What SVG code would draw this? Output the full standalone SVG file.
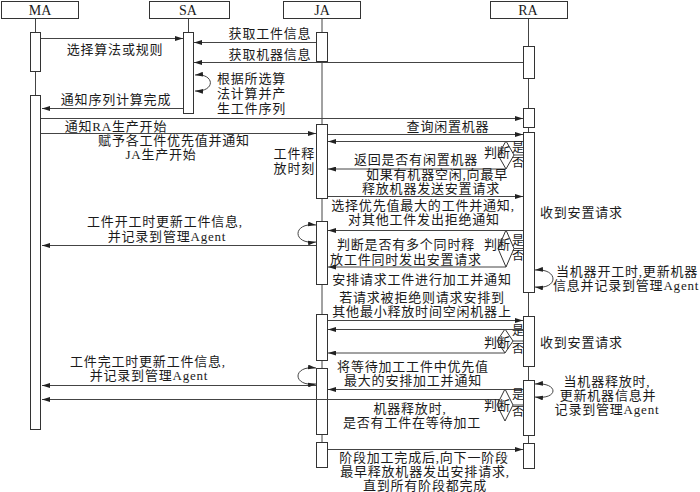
<svg xmlns="http://www.w3.org/2000/svg" width="700" height="492" viewBox="0 0 700 492">
<defs>
<style>
.hd{fill:#fff;stroke:#333;stroke-width:1}
.ll{stroke:#444;stroke-width:1}
.act{fill:#fff;stroke:#333;stroke-width:1}
.msg{stroke:#444;stroke-width:1;fill:none}
.dia{fill:none;stroke:#333;stroke-width:1}
text{font-family:"Liberation Serif","Noto Sans CJK SC",serif;fill:#1a1a1a}
.ht{font-size:14px;text-anchor:middle}
.t,.tl,.tr{font-size:13px;letter-spacing:0.8px}
.t{text-anchor:middle}
.tl{text-anchor:start}
.tr{text-anchor:end}
.yn{font-size:12px;text-anchor:middle}
.pd{font-size:13px;text-anchor:end}
</style>
<marker id="ah" viewBox="0 0 10 6" refX="10" refY="3" markerWidth="8" markerHeight="5" orient="auto" markerUnits="userSpaceOnUse"><path d="M0,0 L10,3 L0,6 z" fill="#222"/></marker>
<marker id="ahs" viewBox="0 0 10 6" refX="10" refY="3" markerWidth="8" markerHeight="5" orient="auto-start-reverse" markerUnits="userSpaceOnUse"><path d="M0,0 L10,3 L0,6 z" fill="#222"/></marker>
</defs>
<rect width="700" height="492" fill="#fff"/>

<g id="MA">
<line class="ll" x1="35.5" y1="18" x2="35.5" y2="429"/>
<rect class="hd" x="1.5" y="1.5" width="77" height="17"/>
<text class="ht" x="40" y="15">MA</text>
<rect class="act" x="30.5" y="32.5" width="10" height="39"/>
<rect class="act" x="30.5" y="95.5" width="10" height="334"/>
</g>

<g id="SA">
<line class="ll" x1="188.5" y1="18" x2="188.5" y2="113"/>
<rect class="hd" x="149.5" y="1.5" width="80" height="17"/>
<text class="ht" x="188" y="15">SA</text>
<rect class="act" x="183.5" y="32.5" width="10" height="81"/>
</g>

<g id="JA">
<line class="ll" x1="322" y1="18" x2="322" y2="467"/>
<rect class="hd" x="283.5" y="1.5" width="77" height="17"/>
<text class="ht" x="322" y="15">JA</text>
<rect class="act" x="316.5" y="32.5" width="11" height="29"/>
<rect class="act" x="316.5" y="124.5" width="11" height="74"/>
<rect class="act" x="316.5" y="221.5" width="11" height="63"/>
<rect class="act" x="316.5" y="314.5" width="11" height="46"/>
<rect class="act" x="316.5" y="368.5" width="11" height="66"/>
<rect class="act" x="316.5" y="442.5" width="11" height="25"/>
</g>

<g id="RA">
<line class="ll" x1="528.5" y1="18" x2="528.5" y2="468"/>
<rect class="hd" x="490.5" y="1.5" width="77" height="17"/>
<text class="ht" x="528" y="15">RA</text>
<rect class="act" x="523.5" y="46.5" width="11" height="32"/>
<rect class="act" x="523.5" y="108.5" width="11" height="19"/>
<rect class="act" x="523.5" y="132.5" width="11" height="160"/>
<rect class="act" x="523.5" y="316.5" width="11" height="50"/>
<rect class="act" x="523.5" y="380.5" width="11" height="55"/>
<rect class="act" x="523.5" y="443.5" width="11" height="25"/>
</g>

<g id="decisions">
<polygon class="dia" points="506,141 514,155 506,169 498,155"/>
<polygon class="dia" points="506,230 514,248.5 506,267 498,248.5"/>
<polygon class="dia" points="505,329 513,341 505,353 497,341"/>
<polygon class="dia" points="505,389 513,405 505,421 497,405"/>
</g>

<g id="connectors">
<line class="msg" x1="41" y1="38.5" x2="183" y2="38.5" marker-end="url(#ah)"/>
<line class="msg" x1="316" y1="42.5" x2="194" y2="42.5" marker-end="url(#ah)"/>
<line class="msg" x1="523" y1="62.5" x2="194" y2="62.5" marker-end="url(#ah)"/>
<path class="msg" d="M195,75 C215,73 216,92 195,91" marker-start="url(#ahs)" marker-end="url(#ah)"/>
<line class="msg" x1="183" y1="108.5" x2="42" y2="108.5" marker-end="url(#ah)"/>
<line class="msg" x1="41" y1="118.5" x2="523" y2="118.5" marker-end="url(#ah)"/>
<line class="msg" x1="41" y1="133.5" x2="316" y2="133.5" marker-end="url(#ah)"/>
<line class="msg" x1="328" y1="134.5" x2="523" y2="134.5" marker-end="url(#ah)"/>
<line class="msg" x1="523" y1="141.5" x2="328" y2="141.5" marker-end="url(#ah)"/>
<line class="msg" x1="514" y1="155" x2="523" y2="155"/>
<line class="msg" x1="506" y1="169" x2="328" y2="169" marker-end="url(#ah)"/>
<line class="msg" x1="328" y1="196.5" x2="523" y2="196.5" marker-end="url(#ah)"/>
<line class="msg" x1="523" y1="230.5" x2="328" y2="230.5" marker-end="url(#ah)"/>
<line class="msg" x1="514" y1="248.5" x2="523" y2="248.5"/>
<line class="msg" x1="506" y1="267" x2="328" y2="267" marker-end="url(#ah)"/>
<line class="msg" x1="316" y1="245.5" x2="42" y2="245.5" marker-end="url(#ah)"/>
<path class="msg" d="M316,225 C292,222 292,245 316,242" marker-start="url(#ahs)" marker-end="url(#ah)"/>
<path class="msg" d="M535,270 C559,268 559,290 535,287" marker-start="url(#ahs)" marker-end="url(#ah)"/>
<line class="msg" x1="328" y1="320.5" x2="523" y2="320.5" marker-end="url(#ah)"/>
<line class="msg" x1="523" y1="329.5" x2="328" y2="329.5" marker-end="url(#ah)"/>
<line class="msg" x1="513" y1="341" x2="523" y2="341"/>
<line class="msg" x1="505" y1="353" x2="328" y2="353" marker-end="url(#ah)"/>
<line class="msg" x1="523" y1="389.5" x2="328" y2="389.5" marker-end="url(#ah)"/>
<line class="msg" x1="513" y1="405" x2="523" y2="405"/>
<line class="msg" x1="316" y1="385.5" x2="42" y2="385.5" marker-end="url(#ah)"/>
<line class="msg" x1="500" y1="399.5" x2="42" y2="399.5" marker-end="url(#ah)"/>
<path class="msg" d="M316,368 C292,365 292,387 316,384" marker-start="url(#ahs)" marker-end="url(#ah)"/>
<path class="msg" d="M535,384 C559,382 559,400 535,397" marker-start="url(#ahs)" marker-end="url(#ah)"/>
<line class="msg" x1="328" y1="449.5" x2="523" y2="449.5" marker-end="url(#ah)"/>
</g>

<g id="labels">
<text class="t" x="115" y="54">选择算法或规则</text>
<text class="t" x="270" y="38">获取工件信息</text>
<text class="t" x="270" y="59">获取机器信息</text>
<text class="tl" x="217" y="83">根据所选算</text>
<text class="tl" x="217" y="98">法计算并产</text>
<text class="tl" x="217" y="113">生工件序列</text>
<text class="t" x="116" y="104">通知序列计算完成</text>
<text class="t" x="116" y="131">通知RA生产开始</text>
<text class="t" x="174" y="145">赋予各工件优先值并通知</text>
<text class="t" x="161" y="159">JA生产开始</text>
<text class="t" x="448" y="131">查询闲置机器</text>
<text class="tr" x="315" y="158">工件释</text>
<text class="tr" x="315" y="173">放时刻</text>
<text class="pd" x="510" y="157">判断</text>
<text class="yn" x="518" y="152">是</text>
<text class="yn" x="518" y="167">否</text>
<text class="t" x="416" y="164">返回是否有闲置机器</text>
<text class="t" x="437" y="179">如果有机器空闲,向最早</text>
<text class="t" x="431" y="193">释放机器发送安置请求</text>
<text class="t" x="423" y="210">选择优先值最大的工件并通知,</text>
<text class="t" x="424" y="224">对其他工件发出拒绝通知</text>
<text class="t" x="165" y="226">工件开工时更新工件信息,</text>
<text class="t" x="167" y="241">并记录到管理Agent</text>
<text class="t" x="406" y="249">判断是否有多个同时释</text>
<text class="t" x="406" y="264">放工件同时发出安置请求</text>
<text class="pd" x="510" y="249">判断</text>
<text class="yn" x="518" y="245">是</text>
<text class="yn" x="518" y="260">否</text>
<text class="t" x="422" y="284">安排请求工件进行加工并通知</text>
<text class="tl" x="540" y="217">收到安置请求</text>
<text class="tl" x="556" y="276">当机器开工时,更新机器</text>
<text class="tl" x="553" y="290">信息并记录到管理Agent</text>
<text class="t" x="422" y="302">若请求被拒绝则请求安排到</text>
<text class="t" x="422" y="316">其他最小释放时间空闲机器上</text>
<text class="pd" x="510" y="347">判断</text>
<text class="yn" x="518" y="335">是</text>
<text class="yn" x="518" y="353">否</text>
<text class="tl" x="540" y="347">收到安置请求</text>
<text class="t" x="413" y="371">将等待加工工件中优先值</text>
<text class="t" x="413" y="385">最大的安排加工并通知</text>
<text class="t" x="148" y="366">工件完工时更新工件信息,</text>
<text class="t" x="149" y="380">并记录到管理Agent</text>
<text class="pd" x="510" y="410">判断</text>
<text class="yn" x="518" y="399">是</text>
<text class="yn" x="518" y="416">否</text>
<text class="t" x="410" y="413">机器释放时,</text>
<text class="t" x="412" y="427">是否有工件在等待加工</text>
<text class="t" x="607" y="386">当机器释放时,</text>
<text class="t" x="608" y="400">更新机器信息并</text>
<text class="t" x="607" y="414">记录到管理Agent</text>
<text class="t" x="424" y="462">阶段加工完成后,向下一阶段</text>
<text class="t" x="425" y="476">最早释放机器发出安排请求,</text>
<text class="t" x="425" y="490">直到所有阶段都完成</text>
</g>
</svg>
